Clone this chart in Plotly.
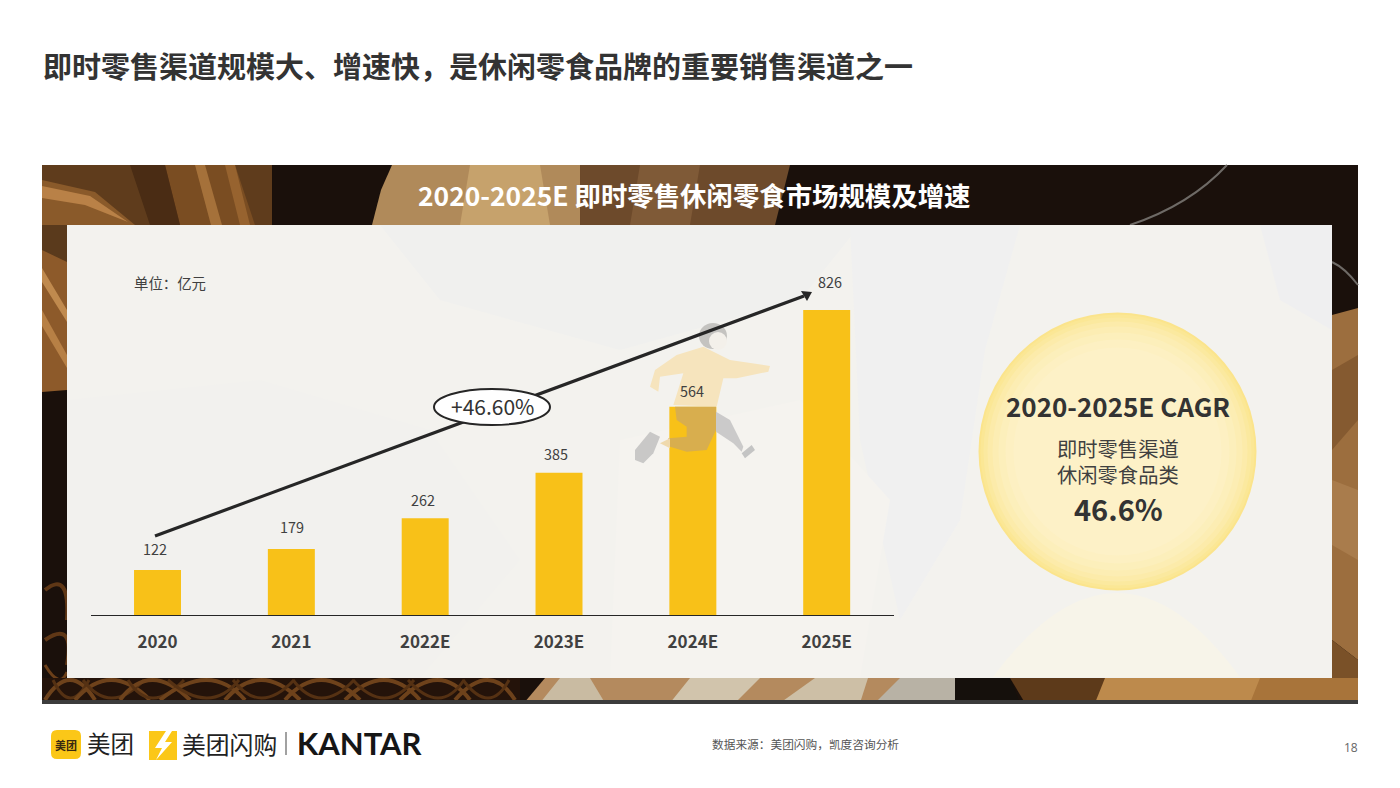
import plotly.graph_objects as go

W, H = 1400, 788
FONT = "Noto Sans CJK SC"

years = ["2020", "2021", "2022E", "2023E", "2024E", "2025E"]
market_size = [122, 179, 262, 385, 564, 826]
label_lift = [21, 22, 19, 19, 16, 28]
label_nudge = [-3, 1, -2, -3, -1, 3]
y_max = 1056

main_title = "即时零售渠道规模大、增速快，是休闲零食品牌的重要销售渠道之一"
band_title = "2020-2025E 即时零售休闲零食市场规模及增速"
unit_text = "单位：亿元"
growth_text = "+46.60%"
source_text = "数据来源：美团闪购，凯度咨询分析"


def px(x):
    return x / W


def py(y):
    return 1 - y / H


shapes = []
annotations = []


def rect(x0, y0, x1, y1, color, layer="below"):
    shapes.append(dict(type="rect", xref="paper", yref="paper", x0=px(x0), x1=px(x1), y0=py(y0), y1=py(y1),
                       fillcolor=color, line_width=0, layer=layer))


def poly(points, color, layer="below", opacity=1):
    path = "M " + " L ".join(f"{px(a):.5f} {py(b):.5f}" for a, b in points) + " Z"
    shapes.append(dict(type="path", xref="paper", yref="paper", path=path, fillcolor=color,
                       line_width=0, layer=layer, opacity=opacity))


def curve(points, color, width):
    # quadratic stroke, start / control / end, used for pretzels and bowl edges
    (a, b), (c, d), (e, f) = points
    path = f"M {px(a):.5f} {py(b):.5f} Q {px(c):.5f} {py(d):.5f} {px(e):.5f} {py(f):.5f}"
    shapes.append(dict(type="path", xref="paper", yref="paper", path=path,
                       line=dict(color=color, width=width), layer="below"))


def circle(cx, cy, rx, ry, color, layer="below", opacity=1, line=None):
    shapes.append(dict(type="circle", xref="paper", yref="paper", x0=px(cx - rx), x1=px(cx + rx),
                       y0=py(cy - ry), y1=py(cy + ry), fillcolor=color, layer=layer, opacity=opacity,
                       line=line or dict(width=0)))


def text(x, y, s, size, color="#404040", bold=False, family=FONT, align="center"):
    annotations.append(dict(xref="paper", yref="paper", x=px(x), y=py(y), text=s, showarrow=False,
                            xanchor=align, yanchor="middle",
                            font=dict(family=family, size=size, color=color, weight=700 if bold else 400)))


# ---- photo band behind the panel ----
rect(42, 165, 1358, 703, "#1a100b")

# top strip
poly([(42, 165), (272, 165), (272, 225), (42, 225)], "#5f3c1c")
poly([(42, 180), (95, 192), (135, 225), (42, 225)], "#8a5a2a")
poly([(42, 186), (90, 196), (128, 222), (85, 205), (42, 198)], "#b98147")
poly([(165, 165), (235, 165), (255, 225), (180, 225)], "#7a4d22")
poly([(195, 165), (205, 165), (222, 225), (211, 225)], "#a5713a")
poly([(225, 165), (235, 165), (250, 225), (240, 225)], "#97632f")
poly([(130, 165), (165, 165), (180, 225), (150, 225)], "#4a2c14")
poly([(381, 190), (392, 165), (580, 165), (580, 225), (372, 225)], "#b08a5a")
poly([(470, 165), (540, 165), (550, 225), (460, 225)], "#c6a26c")
poly([(580, 165), (790, 165), (775, 225), (580, 225)], "#6d4a2b")
poly([(640, 165), (700, 165), (690, 225), (630, 225)], "#7f5a37")
curve([(1227, 165), (1190, 205), (1130, 225)], "#6e6a66", 2)

# left strip
poly([(42, 225), (67, 225), (67, 390), (42, 392)], "#8d5a2a")
poly([(42, 268), (67, 310), (67, 322), (42, 282)], "#c08a4e")
poly([(42, 310), (67, 355), (67, 368), (42, 326)], "#b78045")
poly([(42, 225), (67, 225), (67, 262), (42, 250)], "#5a3a1c")
curve([(45, 590), (70, 570), (67, 620)], "#5f3716", 4)
curve([(45, 640), (75, 620), (67, 665)], "#5f3716", 4)
curve([(45, 665), (60, 690), (67, 672)], "#6b3f19", 3)

# right strip
poly([(1332, 315), (1358, 308), (1358, 660), (1332, 640)], "#9c6e3e")
poly([(1332, 370), (1358, 355), (1358, 420), (1332, 450)], "#855a30")
poly([(1332, 480), (1358, 490), (1358, 560), (1332, 545)], "#a97c4c")
poly([(1332, 640), (1358, 660), (1358, 703), (1332, 703)], "#7a5128")
curve([(1332, 262), (1345, 268), (1358, 285)], "#6e6a66", 2)

# bottom strip
poly([(42, 678), (520, 678), (520, 703), (42, 703)], "#24130a")
for a, b, c in [(45, 95, 70), (75, 150, 110), (120, 190, 150), (160, 245, 210), (225, 300, 260),
                (285, 360, 320), (345, 420, 385), (400, 470, 440), (455, 515, 490)]:
    curve([(a, 700), (c, 660), (b, 700)], "#6e421b", 4)
    curve([(a + 8, 680), (c, 716), (b - 6, 680)], "#553113", 3)
poly([(524, 703), (545, 678), (955, 678), (955, 703)], "#b48a5e")
poly([(540, 703), (560, 678), (590, 678), (605, 703)], "#c9bba2")
poly([(670, 703), (690, 678), (760, 678), (735, 703)], "#d1c4ac")
poly([(780, 703), (815, 678), (868, 678), (860, 703)], "#cdbfa6")
poly([(875, 703), (900, 678), (955, 678), (955, 703)], "#b8b2a5")
poly([(955, 678), (1010, 678), (1020, 703), (955, 703)], "#15100c")
poly([(1010, 678), (1105, 678), (1105, 703), (1025, 703)], "#5d3a1a")
poly([(1105, 678), (1358, 678), (1358, 703), (1105, 703)], "#a8743a")
poly([(1105, 678), (1260, 678), (1250, 703), (1095, 703)], "#bd8a4c")
rect(42, 700, 1358, 704, "#3c3c3c")

# ---- translucent panel, soft chip shapes show through ----
rect(67, 225, 1332, 678, "#f3f2ee")
poly([(380, 225), (860, 225), (800, 300), (620, 350), (440, 300)], "#f0f0ee")
poly([(850, 225), (1020, 225), (985, 350), (960, 520), (900, 620), (860, 440)], "#f0f0f0")
poly([(67, 400), (260, 380), (430, 430), (520, 560), (420, 678), (67, 678)], "#f2f1ee")
poly([(620, 440), (800, 400), (890, 500), (860, 678), (610, 678)], "#f5f3ef")
poly([(1260, 225), (1332, 225), (1332, 330), (1280, 300)], "#efeff0")
shapes.append(dict(type="path", xref="paper", yref="paper", fillcolor="#f7f4e9", line_width=0, layer="below",
                   path=f"M {px(993)} {py(677)} Q {px(1117)} {py(509)} {px(1240)} {py(677)} Z"))

# ---- CAGR disc, stepped rim instead of a radial gradient ----
for r, c in [(139, "#fbe48c"), (137, "#fbe795"), (134, "#fbe99f"), (130, "#fcebaa"), (125, "#fcedb3"),
             (119, "#fcefbb"), (112, "#fdf0c2"), (104, "#fdf1c7")]:
    circle(1117.5, 451.5, r, r, c)

# ---- runner sketch over the bars ----
RUN = [
    ([(350, 225), (430, 200), (510, 240), (630, 258), (625, 275), (530, 295), (490, 295), (470, 380), (340, 375),
      (370, 280), (300, 290), (295, 335), (270, 320), (285, 270)], "#f6e4bd"),
    ([(468, 395), (510, 420), (550, 500), (545, 515), (520, 490), (468, 455)], "#cbcaca"),
    ([(345, 380), (468, 380), (468, 450), (440, 510), (380, 515), (330, 500), (325, 475), (380, 470), (380, 440),
      (350, 420)], "#d8ae4e"),
    ([(270, 455), (300, 470), (280, 520), (250, 550), (225, 540), (225, 510)], "#c9c8c7"),
    ([(300, 490), (330, 475), (330, 505)], "#efd9ac"),
    ([(545, 520), (575, 495), (585, 510), (555, 535)], "#c4c4c4"),
]
for pts, c in RUN:
    poly([(560 + a / 3, 280 + b / 3) for a, b in pts], c, layer="above")
circle(713, 336, 14, 13, "#c4c3c0", layer="above")
circle(718, 341, 9, 9, "#f3f0ea", layer="above")

# ---- trend arrow and oval ----
shapes.append(dict(type="line", xref="paper", yref="paper", x0=px(155), y0=py(536), x1=px(804), y1=py(296),
                   line=dict(color="#262626", width=3.2), layer="above"))
poly([(812, 292), (801, 291), (807, 301)], "#262626", layer="above")
circle(492, 407, 58, 18, "#ffffff", layer="above", line=dict(color="#262626", width=2))

# ---- footer logos ----
shapes.append(dict(type="path", xref="paper", yref="paper", fillcolor="#fbc718", line_width=0, layer="below",
                   path=f"M {px(57)} {py(730)} L {px(75)} {py(730)} Q {px(81)} {py(730)} {px(81)} {py(736)} "
                        f"L {px(81)} {py(753)} Q {px(81)} {py(759)} {px(75)} {py(759)} L {px(57)} {py(759)} "
                        f"Q {px(51)} {py(759)} {px(51)} {py(753)} L {px(51)} {py(736)} Q {px(51)} {py(730)} {px(57)} {py(730)} Z"))
rect(149, 731, 177, 760, "#fbc718")
poly([(166, 731), (155, 748), (162, 748), (156, 760), (172, 742), (165, 742), (172, 731)], "#ffffff")
rect(285.5, 732, 286.5, 755, "#444444")
rect(299, 732, 303, 755, "#e8b33a")

# ---- texts ----
text(41, 65, main_title, 29, "#333333", True, align="left")
text(694, 194, band_title, 26.4, "#ffffff", True)
text(132, 282, unit_text, 14.4, align="left")
text(492, 405.5, growth_text, 21, "#333333")
text(1118, 405, "2020-2025E CAGR", 26, "#333333", True)
text(1118, 461, "即时零售渠道<br>休闲零食品类", 20.3, "#404040")
text(1118, 508, "46.6%", 29, "#333333", True)
text(66, 745, "美团", 11, "#3a2a10", True)
text(110, 743, "美团", 23.5, "#222222")
text(229.5, 743, "美团闪购", 23.8, "#222222")
text(360, 743, "KANTAR", 31, "#161616", True, family="Lato")
text(805.5, 743, source_text, 11.7, "#555555")
text(1351, 747, "18", 12, "#666666", family="Open Sans")

# value labels follow the bars through the data axes
for i, (val, lift, nudge) in enumerate(zip(market_size, label_lift, label_nudge)):
    annotations.append(dict(xref="x", yref="y", x=i, y=val, text=str(val), showarrow=False,
                            yshift=lift, xshift=nudge, yanchor="middle",
                            font=dict(family=FONT, size=14.4, color="#404040")))

fig = go.Figure(go.Bar(x=years, y=market_size, marker=dict(color="#f8c118", line_width=0), hoverinfo="skip"))

fig.update_layout(
    width=W,
    height=H,
    margin=dict(l=0, r=0, t=0, b=0),
    paper_bgcolor="#ffffff",
    plot_bgcolor="rgba(0,0,0,0)",
    bargap=0.649,
    showlegend=False,
    shapes=shapes,
    annotations=annotations,
    xaxis=dict(domain=[px(90.6), px(893.6)], type="category", categoryorder="array", categoryarray=years,
               range=[-0.5, 5.5], showgrid=False, showline=True, linecolor="#262626",
               linewidth=1.2, ticks="", ticklabelstandoff=11, automargin=False,
               tickfont=dict(family=FONT, size=17, color="#404040", weight=700)),
    yaxis=dict(domain=[py(615), py(225)], range=[0, y_max], visible=False),
)

fig.write_html("out.html", config=dict(displayModeBar=False),
               post_script="document.body.style.margin='0';window.dispatchEvent(new Event('resize'));")
